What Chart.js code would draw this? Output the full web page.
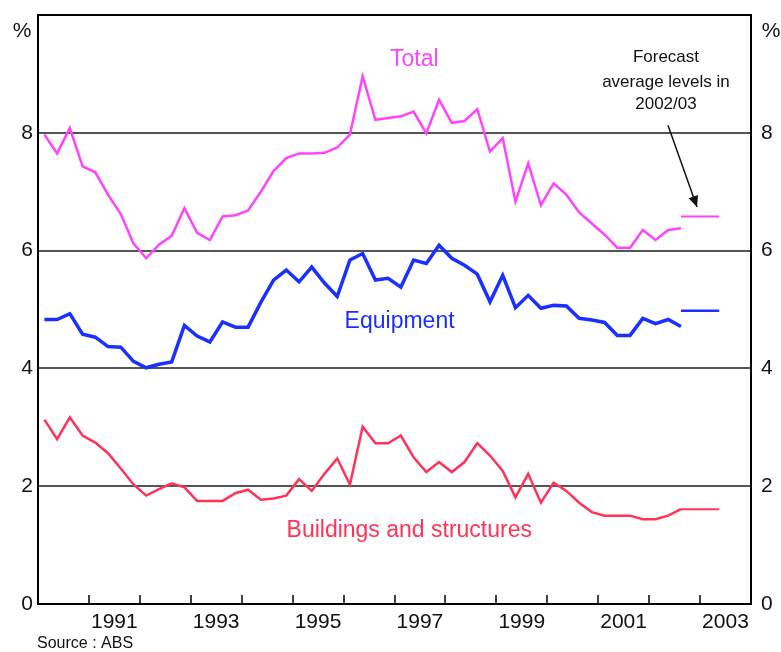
<!DOCTYPE html>
<html><head><meta charset="utf-8">
<script src="https://cdn.jsdelivr.net/npm/chart.js@4/dist/chart.umd.min.js"></script>
<style>html,body{margin:0;padding:0;background:#fff;}#wrap{width:781px;height:652px;}</style>
</head><body><div id="wrap"><canvas id="c" width="781" height="652"></canvas></div>
<script>
// ---- DATA ----
const quarters = [
 '1990Q1','1990Q2','1990Q3','1990Q4','1991Q1','1991Q2','1991Q3','1991Q4',
 '1992Q1','1992Q2','1992Q3','1992Q4','1993Q1','1993Q2','1993Q3','1993Q4',
 '1994Q1','1994Q2','1994Q3','1994Q4','1995Q1','1995Q2','1995Q3','1995Q4',
 '1996Q1','1996Q2','1996Q3','1996Q4','1997Q1','1997Q2','1997Q3','1997Q4',
 '1998Q1','1998Q2','1998Q3','1998Q4','1999Q1','1999Q2','1999Q3','1999Q4',
 '2000Q1','2000Q2','2000Q3','2000Q4','2001Q1','2001Q2','2001Q3','2001Q4',
 '2002Q1','2002Q2','2002Q3'
];
const total = [
 7.97,7.65,8.08,7.43,7.33,6.95,6.62,6.12,
 5.87,6.10,6.25,6.72,6.30,6.18,6.58,6.60,
 6.68,7.00,7.35,7.57,7.65,7.65,7.66,7.75,
 7.97,8.96,8.22,8.25,8.28,8.36,7.99,8.56,
 8.17,8.20,8.40,7.68,7.91,6.83,7.48,6.77,
 7.14,6.95,6.65,6.46,6.27,6.05,6.05,6.35,
 6.18,6.35,6.38
];
const equipment = [
 4.83,4.83,4.93,4.58,4.53,4.37,4.36,4.12,
 4.01,4.07,4.11,4.73,4.55,4.45,4.79,4.70,
 4.70,5.12,5.50,5.67,5.47,5.72,5.45,5.22,
 5.84,5.95,5.50,5.53,5.38,5.84,5.78,6.09,
 5.87,5.75,5.60,5.13,5.58,5.03,5.24,5.02,
 5.07,5.06,4.85,4.82,4.78,4.56,4.56,4.85,
 4.76,4.83,4.71
];
const buildings = [
 3.13,2.80,3.17,2.86,2.74,2.56,2.30,2.03,
 1.84,1.95,2.05,1.98,1.75,1.75,1.75,1.88,
 1.94,1.77,1.79,1.84,2.12,1.92,2.21,2.47,
 2.03,3.01,2.73,2.73,2.86,2.49,2.24,2.41,
 2.24,2.41,2.73,2.52,2.26,1.81,2.21,1.72,
 2.06,1.92,1.72,1.56,1.50,1.50,1.50,1.44,
 1.44,1.50,1.61
];
const forecastPeriod = ['2002Q3','2003Q2'];
const forecastTotal = [6.58, 6.58];
const forecastEquipment = [4.98, 4.98];
const forecastBuildings = [1.61, 1.61];
const yTickValues = [0,2,4,6,8];
const xLabelYears = [1991,1993,1995,1997,1999,2001,2003];
const xTickYears = [1991,1992,1993,1994,1995,1996,1997,1998,1999,2000,2001,2002,2003];

// ---- helpers ----
function qToYear(q){ const y=+q.slice(0,4), n=+q.slice(5); return y + (n-1)*0.25 + 0.125; }
function pts(labels, vals){ return labels.map((q,i)=>({x:qToYear(q), y:vals[i]})); }

const FONT = "'Liberation Sans', Arial, sans-serif";
const C_TOTAL = '#ff44ff', C_EQUIP = '#1a30ff', C_BUILD = '#ff3358';

const annotations = {
  id:'annotations',
  afterDraw(chart){
    const {ctx, chartArea:a, scales:{x, y}} = chart;
    ctx.save();
    // inside tick marks on x axis
    ctx.strokeStyle = '#000'; ctx.lineWidth = 1.5;
    xTickYears.forEach(yr=>{
      const px = Math.round(x.getPixelForValue(yr));
      ctx.beginPath(); ctx.moveTo(px, a.bottom); ctx.lineTo(px, a.bottom-9); ctx.stroke();
    });
    ctx.textAlign='center'; ctx.textBaseline='middle';
    // series labels
    ctx.font = '23px ' + FONT;
    ctx.fillStyle = C_TOTAL; ctx.fillText('Total', x.getPixelForValue(1997.39), y.getPixelForValue(9.24));
    ctx.fillStyle = C_EQUIP; ctx.fillText('Equipment', x.getPixelForValue(1997.10), y.getPixelForValue(4.80));
    ctx.fillStyle = C_BUILD; ctx.fillText('Buildings and structures', x.getPixelForValue(1997.29), y.getPixelForValue(1.24));
    // forecast note
    ctx.fillStyle = '#111'; ctx.font = '17px ' + FONT;
    const fx = x.getPixelForValue(2002.33);
    ctx.fillText('Forecast', fx, y.getPixelForValue(9.29));
    ctx.fillText('average levels in', fx, y.getPixelForValue(8.86));
    ctx.fillText('2002/03', fx, y.getPixelForValue(8.49));
    // arrow
    const x1 = x.getPixelForValue(2002.37), y1 = y.getPixelForValue(8.13);
    const x2 = x.getPixelForValue(2002.94), y2 = y.getPixelForValue(6.74);
    ctx.strokeStyle='#111'; ctx.lineWidth=1.5;
    ctx.beginPath(); ctx.moveTo(x1,y1); ctx.lineTo(x2,y2); ctx.stroke();
    const ang = Math.atan2(y2-y1, x2-x1), L=11, W=5;
    ctx.beginPath();
    ctx.moveTo(x2,y2);
    ctx.lineTo(x2 - L*Math.cos(ang) + W*Math.sin(ang), y2 - L*Math.sin(ang) - W*Math.cos(ang));
    ctx.lineTo(x2 - L*Math.cos(ang) - W*Math.sin(ang), y2 - L*Math.sin(ang) + W*Math.cos(ang));
    ctx.closePath(); ctx.fillStyle='#111'; ctx.fill();
    // % labels
    ctx.fillStyle='#111'; ctx.font = '21px ' + FONT;
    ctx.fillText('%', a.left-16, a.top+16);
    ctx.fillText('%', a.right+20, a.top+16);
    // source
    ctx.textAlign='left'; ctx.font = '16px ' + FONT;
    ctx.fillText('Source : ABS', a.left-1, 644);
    ctx.restore();
  }
};

const line = (data, color, w) => ({data, borderColor:color, backgroundColor:color, borderWidth:w,
  pointRadius:0, tension:0, fill:false, yAxisID:'y'});

const fixV = w => s => { s.width = w; s.paddingTop = 0; s.paddingBottom = 0; };

new Chart(document.getElementById('c'), {
  type:'line',
  data:{ datasets:[
    line(pts(quarters,total), C_TOTAL, 2.5),
    line(pts(quarters,equipment), C_EQUIP, 3.5),
    line(pts(quarters,buildings), C_BUILD, 2.5),
    line(pts(forecastPeriod,forecastTotal), C_TOTAL, 2),
    line(pts(forecastPeriod,forecastEquipment), C_EQUIP, 2.5),
    line(pts(forecastPeriod,forecastBuildings), C_BUILD, 2),
  ]},
  options:{
    responsive:false, animation:false, devicePixelRatio:1,
    layout:{padding:{top:15,left:0,right:0,bottom:0}},
    plugins:{legend:{display:false}, tooltip:{enabled:false}},
    scales:{
      x:{type:'linear', min:1990, max:2004,
        ticks:{stepSize:1, autoSkip:false, maxRotation:0, labelOffset:25.4, padding:6,
          font:{size:21, family:FONT}, color:'#111',
          callback:v=> xLabelYears.includes(v) ? String(v) : ''},
        grid:{drawOnChartArea:false, drawTicks:false},
        border:{display:true, color:'#000', width:2},
        afterFit:s=>{ s.height = 48; s.paddingLeft = 0; s.paddingRight = 0; }
      },
      y:{position:'left', min:0, max:10,
        ticks:{stepSize:2, padding:5, font:{size:21, family:FONT}, color:'#111',
          callback:v=> yTickValues.includes(v) ? String(v) : ''},
        grid:{drawTicks:false, lineWidth:2, color:c=> c.tick && c.tick.value===10 ? '#000' : '#555'},
        border:{display:true, color:'#000', width:2},
        afterFit:fixV(38)
      },
      y2:{position:'right', min:0, max:10,
        ticks:{stepSize:2, padding:10, font:{size:21, family:FONT}, color:'#111',
          callback:v=> yTickValues.includes(v) ? String(v) : ''},
        grid:{drawOnChartArea:false, drawTicks:false},
        border:{display:true, color:'#000', width:2},
        afterFit:fixV(30)
      }
    }
  },
  plugins:[annotations]
});
</script></body></html>
